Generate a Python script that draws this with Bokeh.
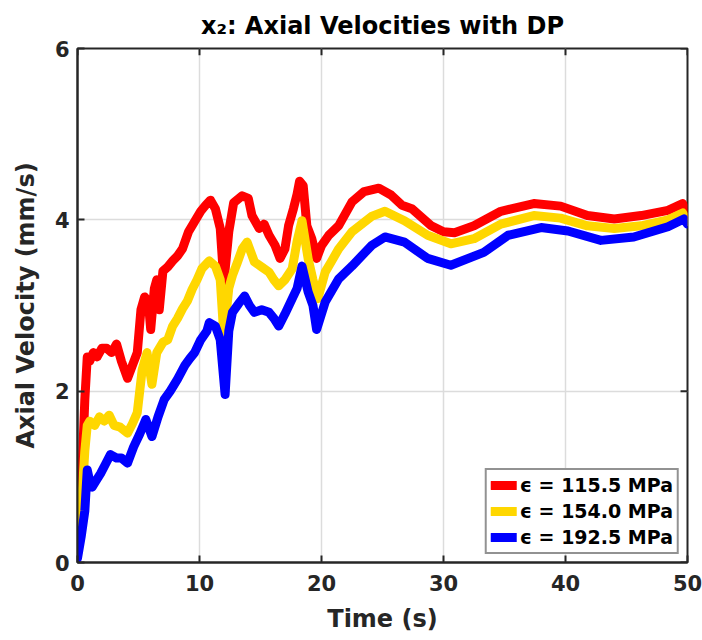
from bokeh.plotting import figure
from bokeh.models import Range1d, Legend, LegendItem, FixedTicker
from bokeh.embed import file_html
from bokeh.resources import INLINE

# ---- data ----
t_red = [0, 0.3, 0.6, 0.8, 1.0, 1.3, 1.6, 2.0, 2.4, 2.8, 3.2, 3.6, 4.1, 4.5, 4.9, 5.2, 5.5, 5.8,
         6.0, 6.3, 6.5, 6.7, 7.0, 7.4, 7.8, 8.2, 8.6, 9.1, 9.6, 10.1, 10.5, 10.9, 11.3, 11.7, 12.0,
         12.4, 12.8, 13.5, 14.0, 14.3, 14.9, 15.3, 15.7, 16.2, 16.6, 17.0, 17.3, 17.7, 18.0,
         18.2, 18.5, 18.8, 19.2, 19.6, 20.0, 20.6, 21.4, 22.5, 23.5, 24.7, 25.7, 26.6, 27.4,
         29.0, 30.0, 30.9, 32.5, 34.7, 37.4, 39.6, 41.8, 44.0, 46.2, 48.4, 49.6, 50.0]
v_red = [0.1, 0.8, 1.9, 2.4, 2.35, 2.45, 2.4, 2.5, 2.5, 2.45, 2.55, 2.35, 2.15, 2.3, 2.45, 2.95,
         3.1, 3.05, 2.72, 3.2, 3.3, 2.95, 3.4, 3.45, 3.52, 3.58, 3.66, 3.86, 3.98, 4.1, 4.17, 4.23,
         4.13, 3.9, 3.27, 3.86, 4.2, 4.28, 4.25, 4.05, 3.9, 3.95, 3.82, 3.7, 3.55, 3.66, 3.93,
         4.13, 4.3, 4.45, 4.4, 3.93, 3.78, 3.55, 3.7, 3.82, 3.93, 4.21, 4.33, 4.37, 4.29, 4.17,
         4.13, 3.93, 3.86, 3.85, 3.93, 4.1, 4.19, 4.16, 4.05, 4.01, 4.05, 4.11, 4.19, 4.05]

t_yel = [0, 0.3, 0.6, 0.8, 1.0, 1.4, 1.8, 2.2, 2.6, 3.0, 3.5, 4.1, 4.5, 4.9, 5.3, 5.7, 6.1, 6.5,
         7.0, 7.4, 7.8, 8.2, 8.6, 9.0, 9.4, 9.8, 10.2, 10.8, 11.3, 11.7, 12.0, 12.4, 12.7, 13.1,
         13.5, 13.9, 14.5, 15.1, 15.7, 16.1, 16.5, 17.0, 17.6, 18.0, 18.4, 18.9, 19.3, 19.7,
         20.3, 20.8, 21.4, 22.5, 24.1, 25.2, 26.8, 28.7, 30.6, 32.5, 34.7, 37.4, 39.6, 41.8,
         44.0, 46.2, 48.4, 49.6, 50.0]
v_yel = [0.1, 0.6, 1.3, 1.6, 1.65, 1.6, 1.7, 1.65, 1.72, 1.6, 1.58, 1.51, 1.62, 1.75, 2.25, 2.45,
         2.08, 2.45, 2.57, 2.6, 2.76, 2.85, 2.96, 3.05, 3.19, 3.3, 3.43, 3.52, 3.46, 3.3, 2.64,
         3.2, 3.35, 3.5, 3.66, 3.74, 3.51, 3.45, 3.39, 3.3, 3.23, 3.3, 3.43, 3.75, 3.99, 3.55,
         3.3, 3.08, 3.39, 3.51, 3.66, 3.86, 4.04, 4.1, 3.99, 3.82, 3.72, 3.78, 3.95, 4.05, 4.02,
         3.93, 3.9, 3.93, 4.0, 4.08, 3.98]

t_blu = [0, 0.3, 0.6, 0.8, 1.0, 1.2, 1.5, 1.9, 2.3, 2.7, 3.2, 3.6, 4.1, 4.6, 5.1, 5.6, 6.1, 6.6,
         7.1, 7.6, 8.2, 8.8, 9.2, 9.6, 10.1, 10.6, 10.8, 11.3, 11.7, 12.1, 12.4, 12.7, 13.2, 13.7,
         14.1, 14.5, 15.1, 15.7, 16.1, 16.5, 17.0, 17.6, 18.0, 18.4, 18.9, 19.3, 19.6, 20.3,
         21.4, 22.5, 24.1, 25.2, 26.8, 28.7, 30.6, 33.3, 35.3, 38.0, 40.2, 42.9, 45.6, 48.4,
         49.7, 50.0]
v_blu = [0.05, 0.3, 0.6, 1.08, 0.95, 0.88, 0.95, 1.04, 1.15, 1.26, 1.22, 1.22, 1.16, 1.35, 1.5,
         1.67, 1.47, 1.7, 1.9, 2.0, 2.14, 2.3, 2.38, 2.45, 2.6, 2.7, 2.8, 2.76, 2.6, 1.96, 2.7,
         2.92, 3.02, 3.11, 3.0, 2.92, 2.95, 2.92, 2.85, 2.76, 2.9, 3.08, 3.2, 3.46, 3.16, 3.0,
         2.72, 3.04, 3.31, 3.46, 3.7, 3.8, 3.74, 3.55, 3.47, 3.62, 3.82, 3.91, 3.87, 3.76, 3.8,
         3.92, 4.01, 3.95]

series_labels = ["\u03f5 = 115.5 MPa", "\u03f5 = 154.0 MPa", "\u03f5 = 192.5 MPa"]
series_colors = ["#FF0000", "#FFD700", "#0000FF"]
x_ticks = [0, 10, 20, 30, 40, 50]
y_ticks = [0, 2, 4, 6]

FONT = "DejaVu Sans"
INK = "#262626"
X_MIN, X_MAX, Y_MIN, Y_MAX = 0, 50, 0, 6

p = figure(width=702, height=640, output_backend="svg", toolbar_location=None,
           x_range=Range1d(X_MIN, X_MAX), y_range=Range1d(Y_MIN, Y_MAX),
           min_border_left=77, min_border_right=15, min_border_top=48, min_border_bottom=78,
           title="x\u2082: Axial Velocities with DP")
p.title.align = "center"
p.title.text_font = FONT
p.title.text_font_style = "bold"
p.title.text_font_size = "24px"
p.title.text_color = "black"
p.title.standoff = 18

p.outline_line_color = INK
p.outline_line_width = 2
p.background_fill_color = "white"
p.border_fill_color = "white"

p.xgrid.grid_line_color = "#dcdcdc"
p.ygrid.grid_line_color = "#dcdcdc"
p.xgrid.grid_line_width = 1.5
p.ygrid.grid_line_width = 1.5
p.xaxis.ticker = FixedTicker(ticks=x_ticks)
p.yaxis.ticker = FixedTicker(ticks=y_ticks)

for ax in (p.xaxis[0], p.yaxis[0]):
    ax.axis_line_color = INK
    ax.axis_line_width = 2
    ax.major_tick_in = 7
    ax.major_tick_out = 0
    ax.major_tick_line_color = INK
    ax.major_tick_line_width = 2
    ax.minor_tick_line_color = None
    ax.major_label_text_font = FONT
    ax.major_label_text_font_style = "bold"
    ax.major_label_text_font_size = "21px"
    ax.major_label_text_color = INK
    ax.axis_label_text_font = FONT
    ax.axis_label_text_font_style = "bold"
    ax.axis_label_text_font_size = "24px"
    ax.axis_label_text_color = INK

p.xaxis.axis_label = "Time (s)"
p.yaxis.axis_label = "Axial Velocity (mm/s)"
p.xaxis.major_label_standoff = 12
p.xaxis.axis_label_standoff = 11
p.yaxis.major_label_standoff = 8
p.yaxis.axis_label_standoff = 12

# box ticks on the top and right edges (inward, like the reference)
tick_len_y = 0.08   # in y units (~7 px)
tick_len_x = 0.57   # in x units (~7 px)
p.segment(x0=x_ticks, y0=[Y_MAX] * len(x_ticks), x1=x_ticks, y1=[Y_MAX - tick_len_y] * len(x_ticks),
          line_color=INK, line_width=2)
p.segment(x0=[X_MAX] * len(y_ticks), y0=y_ticks, x1=[X_MAX - tick_len_x] * len(y_ticks), y1=y_ticks,
          line_color=INK, line_width=2)

renderers = []
for tt, vv, col in ((t_red, v_red, series_colors[0]), (t_yel, v_yel, series_colors[1]),
                    (t_blu, v_blu, series_colors[2])):
    r = p.line(tt, vv, line_color=col, line_width=9, line_join="round", line_cap="round")
    renderers.append(r)

legend = Legend(items=[LegendItem(label=lab, renderers=[r]) for lab, r in zip(series_labels, renderers)],
                location="bottom_right", margin=8, padding=4, spacing=4,
                label_text_font=FONT, label_text_font_style="bold", label_text_font_size="19px",
                label_text_color="black", label_standoff=3, glyph_width=26, glyph_height=22,
                label_height=22, border_line_color=INK, border_line_width=2,
                background_fill_color="white", background_fill_alpha=1.0)
p.add_layout(legend, "center")

open("out.html", "w").write(file_html(p, INLINE))
